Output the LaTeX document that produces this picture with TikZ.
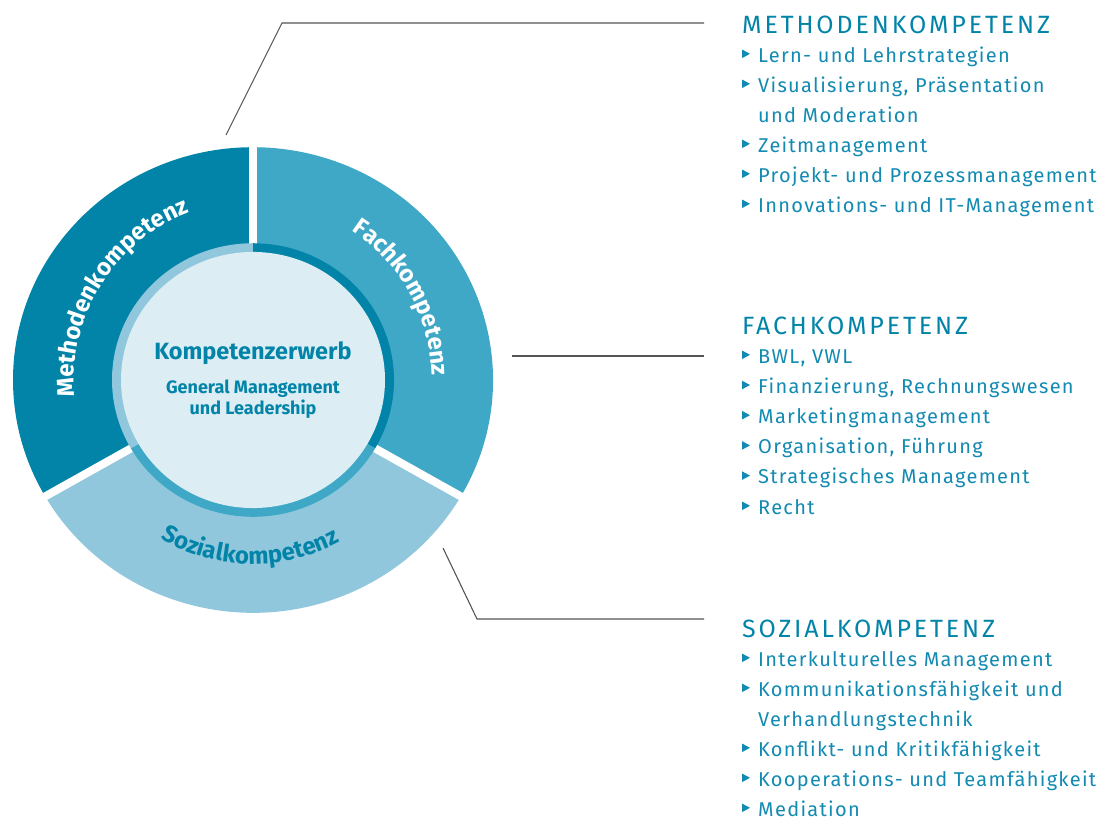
\documentclass[tikz,border=0pt]{standalone}
\usepackage{fontspec}
\setmainfont{Fira Sans}
\newfontfamily\headfont[LetterSpace=11.5]{Fira Sans}
\newfontfamily\itemfont[LetterSpace=6.5]{Fira Sans}
\usetikzlibrary{decorations.text}
\usetikzlibrary{calc}

\definecolor{kdark}{RGB}{2,132,168}
\definecolor{kmid}{RGB}{63,168,198}
\definecolor{klight}{RGB}{144,199,220}
\definecolor{kcore}{RGB}{220,237,244}
\definecolor{ktext}{RGB}{18,138,178}
\definecolor{kline}{RGB}{85,85,85}

\begin{document}
\begin{tikzpicture}[x=1pt,y=1pt,
  head/.style={anchor=base west,inner sep=0pt,text=kdark,
   font=\headfont\fontsize{25}{25}\selectfont},
  entry/.style={anchor=base west,inner sep=0pt,text=ktext,
   font=\itemfont\fontsize{20}{20}\selectfont},
  coretext/.style={anchor=base,inner sep=0pt,text=kdark},
  leader/.style={draw=kline,line width=1.1pt},
  arclabel/.style={decorate,decoration={text along path,
   text align=center,text color=#1}}]

\useasboundingbox (0,0) rectangle (1108,-819);

% wheel
\coordinate (c) at (253,-380);
\begin{scope}[shift={(c)},yscale=0.97]
 \foreach \a/\b/\seg in {90/210/kdark,-30/90/kmid,210/330/klight}
  \fill[\seg] (\a:140) -- (\a:240) arc[start angle=\a,end angle=\b,radius=240]
   -- (\b:140) arc[start angle=\b,end angle=\a,radius=140] -- cycle;
 \foreach \a in {90,210,330}
  \draw[white,line width=8pt] (\a:135) -- (\a:250);
 \foreach \a/\b/\rim in {90/210/klight,-30/90/kdark,210/330/kmid}
  \fill[\rim] (0,0) -- (\a:141) arc[start angle=\a,end angle=\b,radius=141] -- cycle;
 \fill[kcore] (0,0) circle[radius=132];
\end{scope}

\begin{scope}[shift={(c)}]
 \path[arclabel=white,decoration={text={|\bfseries\fontsize{24}{24}\selectfont|Methodenkompetenz}}]
  (203:179) arc[start angle=203,end angle=93,radius=179];
 \path[arclabel=white,decoration={text={|\bfseries\fontsize{24}{24}\selectfont|Fachkompetenz}}]
  (84:179) arc[start angle=84,end angle=-26,radius=179];
 \path[arclabel=kdark,decoration={text={|\bfseries\fontsize{24}{24}\selectfont|Sozialkompetenz}}]
  (214:184) arc[start angle=214,end angle=324,radius=184];
\end{scope}

\node[coretext,font=\bfseries\fontsize{23.5}{23.5}\selectfont] (core) at (253,-359) {Kompetenzerwerb};
\node[coretext,font=\bfseries\fontsize{18}{18}\selectfont] (coresub) at (253,-393) {General Management};
\node[coretext,font=\bfseries\fontsize{18}{18}\selectfont] (coresubb) at (253,-414) {und Leadership};

% lists
\node[head] (methhead) at (742,-33) {METHODENKOMPETENZ};
\foreach \b/\t [count=\i] in {1/Lern- und Lehrstrategien,1/{Visualisierung, Präsentation},
  0/und Moderation,1/Zeitmanagement,1/Projekt- und Prozessmanagement,
  1/Innovations- und IT-Management}{
  \node[entry] (meth\i) at ([xshift=16pt,yshift={-29pt-30pt*(\i-1)}]methhead.base west) {\t};
  \ifnum\b=1 \fill[ktext] ([xshift=-16pt,yshift=12.5pt]meth\i.base west) -- ++(8,-4.3) -- ++(-8,-4.3) -- cycle; \fi
}

\node[head] (fachhead) at (742,-334) {FACHKOMPETENZ};
\foreach \b/\t [count=\i] in {1/{BWL, VWL},1/{Finanzierung, Rechnungswesen},
  1/Marketingmanagement,1/{Organisation, Führung},1/Strategisches Management,1/Recht}{
  \node[entry] (fach\i) at ([xshift=16pt,yshift={-29pt-30.2pt*(\i-1)}]fachhead.base west) {\t};
  \ifnum\b=1 \fill[ktext] ([xshift=-16pt,yshift=12.5pt]fach\i.base west) -- ++(8,-4.3) -- ++(-8,-4.3) -- cycle; \fi
}

\node[head] (sozhead) at (742,-637) {SOZIALKOMPETENZ};
\foreach \b/\t [count=\i] in {1/Interkulturelles Management,1/Kommunikationsfähigkeit und,
  0/Verhandlungstechnik,1/Konflikt- und Kritikfähigkeit,1/Kooperations- und Teamfähigkeit,
  1/Mediation}{
  \node[entry] (soz\i) at ([xshift=16pt,yshift={-29pt-30pt*(\i-1)}]sozhead.base west) {\t};
  \ifnum\b=1 \fill[ktext] ([xshift=-16pt,yshift=12.5pt]soz\i.base west) -- ++(8,-4.3) -- ++(-8,-4.3) -- cycle; \fi
}

% leaders
\coordinate (methpin) at (226,-135);
\coordinate (fachpin) at (512,-356);
\coordinate (sozpin) at (443,-548);
\draw[leader] (methpin) -- ++(56,112) coordinate (methbend) -- ($(methhead.west |- methbend)+(-38,0)$);
\draw[leader] (fachpin) -- ($(fachhead.west |- fachpin)+(-38,0)$);
\draw[leader] (sozpin) -- ++(34,-71) coordinate (sozbend) -- ($(sozhead.west |- sozbend)+(-38,0)$);
\end{tikzpicture}
\end{document}
